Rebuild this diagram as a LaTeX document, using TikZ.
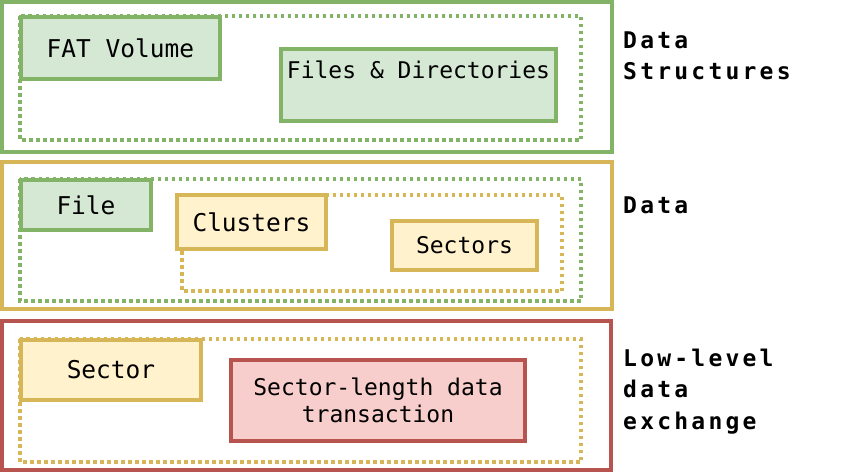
\documentclass[tikz,border=0pt]{standalone}
\usepackage{fontspec}
\newfontfamily\boxfont{DejaVu Sans Mono}
\newfontfamily\lblfont[LetterSpace=14]{DejaVu Sans Mono}
\definecolor{gstroke}{HTML}{82B366}
\definecolor{gfill}{HTML}{D5E8D4}
\definecolor{ystroke}{HTML}{D6B656}
\definecolor{yfill}{HTML}{FFF2CC}
\definecolor{rstroke}{HTML}{B85450}
\definecolor{rfill}{HTML}{F8CECC}
\tikzset{
  outerbox/.style={line width=4pt},
  dotbox/.style={line width=3.5pt, dash pattern=on 3.5pt off 3.5pt},
  itembox/.style={rectangle, line width=3.5pt, inner sep=0pt, font=\boxfont\fontsize{23}{27}\selectfont, align=center},
  bigtext/.style={font=\boxfont\fontsize{24.5}{27}\selectfont},
  gbox/.style={itembox, draw=gstroke, fill=gfill},
  ybox/.style={itembox, draw=ystroke, fill=yfill},
  rbox/.style={itembox, draw=rstroke, fill=rfill},
  lbl/.style={anchor=base west, inner sep=0pt, align=left, font=\lblfont\bfseries\fontsize{23}{31.5}\selectfont}
}
\begin{document}
\begin{tikzpicture}[x=1pt,y=-1pt]
\useasboundingbox (0,0) rectangle (862,472);
% Data structures section
\draw[outerbox, gstroke] (2,2) rectangle (612,152);
\draw[dotbox, gstroke] (20,16) rectangle (581,140);
\node[gbox, bigtext, minimum width=199pt, minimum height=62pt] (fat) at (120.5,48) {FAT Volume};
\node[gbox, minimum width=275pt, minimum height=72pt, text depth=31pt] (fd) at (418.5,85) {Files \& Directories};
\node[lbl] (lds) at (623,79.5) {Data\\Structures};
% Data section
\draw[outerbox, ystroke] (2,162) rectangle (612,309);
\draw[dotbox, gstroke] (20,179) rectangle (581,301);
\draw[dotbox, ystroke] (182,195) rectangle (562,291);
\node[gbox, bigtext, minimum width=130pt, minimum height=50pt] (file) at (86,205) {File};
\node[ybox, bigtext, minimum width=149pt, minimum height=54pt] (clu) at (251.5,222) {Clusters};
\node[ybox, minimum width=145pt, minimum height=49pt] (sec) at (464.5,245.5) {Sectors};
\node[lbl] (ld) at (623,213) {Data};
% Low-level section
\draw[outerbox, rstroke] (2,321) rectangle (611,470);
\draw[dotbox, ystroke] (20,339) rectangle (581,462);
\node[ybox, bigtext, minimum width=180pt, minimum height=60pt] (sector) at (111,370) {Sector};
\node[rbox, minimum width=294pt, minimum height=81pt] (slt) at (378,400.5) {Sector-length data\\transaction};
\node[lbl] (lll) at (623,429) {Low-level\\data\\exchange};
\end{tikzpicture}
\end{document}
